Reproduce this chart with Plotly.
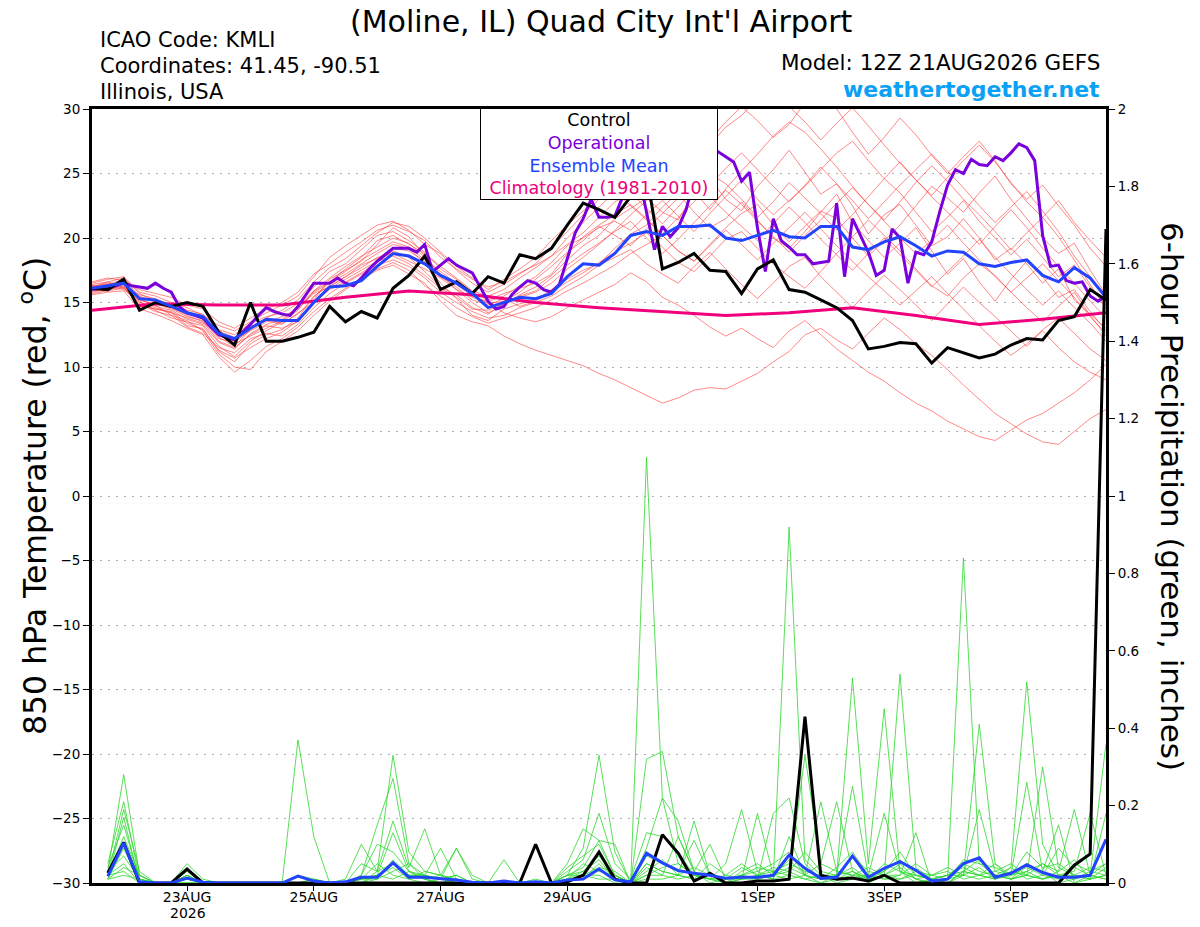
import plotly.graph_objects as go
import pandas as pd

# GEFS meteogram for KMLI, 12Z 21AUG2026 run
start = pd.Timestamp("2026-08-21 12:00")
times = pd.date_range(start, periods=65, freq="6h")       # ensemble, 6-hourly
op_times = pd.date_range(start, periods=129, freq="3h")   # operational, 3-hourly
clim_times = pd.date_range(start, periods=17, freq="24h")  # climatology, daily
precip_times = times[1:]                                  # 6-h accumulations

tick_dates = ["2026-08-23", "2026-08-25", "2026-08-27", "2026-08-29",
              "2026-09-01", "2026-09-03", "2026-09-05"]
tick_labels = ["23AUG", "25AUG", "27AUG", "29AUG", "1SEP", "3SEP", "5SEP"]
year_label = "2026"

# 850 hPa temperature (C)
control_temp = [
    16.1, 16.0, 16.8, 14.4, 15.0, 14.7, 15.0, 14.7, 12.7, 11.7,
    15.0, 12.0, 12.0, 12.3, 12.7, 14.7, 13.5, 14.3, 13.8, 16.1,
    17.1, 18.6, 16.0, 16.6, 15.7, 17.0, 16.5, 18.7, 18.4, 19.2,
    21.0, 22.7, 22.2, 21.6, 23.2, 25.0, 17.6, 18.1, 18.8, 17.5,
    17.4, 15.7, 17.6, 18.3, 16.0, 15.8, 15.2, 14.6, 13.6, 11.4,
    11.6, 11.9, 11.8, 10.3, 11.5, 11.1, 10.7, 11.0, 11.7, 12.2,
    12.1, 13.6, 13.9, 16.0, 15.2,
]
mean_temp = [
    16.1, 16.3, 16.5, 15.3, 15.2, 14.7, 14.2, 13.9, 12.6, 12.2,
    13.0, 13.7, 13.6, 13.6, 15.0, 16.2, 16.3, 16.7, 17.8, 18.8,
    18.6, 18.0, 17.1, 16.5, 15.7, 14.6, 15.0, 15.4, 15.3, 15.7,
    17.0, 18.0, 17.9, 18.8, 20.2, 20.5, 20.2, 20.9, 20.9, 21.0,
    20.0, 19.8, 20.2, 20.6, 20.1, 20.0, 20.9, 20.9, 19.3, 19.1,
    19.7, 20.1, 19.4, 18.6, 19.0, 18.9, 18.0, 17.8, 18.1, 18.3,
    17.1, 16.6, 17.7, 16.9, 15.4,
]
op_temp = [
    16.0, 16.1, 16.2, 16.3, 16.5, 16.3, 16.2, 16.1,
    16.5, 16.1, 15.8, 14.7, 14.2, 14.0, 13.8, 13.1,
    12.5, 12.3, 12.1, 12.7, 13.3, 14.0, 14.6, 14.3,
    14.1, 14.0, 14.7, 15.6, 16.5, 16.5, 16.5, 16.9,
    16.5, 16.3, 16.9, 17.6, 18.2, 18.7, 19.2, 19.2,
    19.2, 18.9, 19.5, 17.4, 17.9, 18.4, 17.9, 17.6,
    17.3, 16.2, 15.1, 14.5, 14.7, 15.6, 16.2, 16.7,
    16.5, 16.0, 15.8, 16.4, 18.5, 20.4, 21.5, 23.0,
    21.6, 21.6, 21.7, 23.2, 24.5, 25.0, 22.0, 19.1,
    20.9, 20.1, 20.8, 22.2, 24.5, 26.0, 26.5, 26.7,
    26.3, 25.9, 24.4, 25.1, 20.8, 17.4, 21.5, 19.8,
    19.3, 18.7, 18.7, 18.0, 18.1, 18.2, 22.7, 17.0,
    21.5, 20.2, 18.9, 17.1, 17.5, 20.7, 20.0, 16.5,
    18.9, 18.7, 19.7, 22.0, 24.1, 25.3, 25.0, 26.1,
    25.7, 25.6, 26.3, 26.0, 26.6, 27.3, 27.0, 26.0,
    20.2, 17.8, 17.9, 16.7, 16.5, 16.6, 15.5, 15.1,
    15.5,
]
clim_temp = [14.4, 14.9, 14.8, 14.8, 15.4, 15.9, 15.6, 15.0, 14.6,
             14.3, 14.0, 14.2, 14.6, 14.0, 13.3, 13.7, 14.2]

member_temps = [
    [16.0, 16.4, 16.8, 15.5, 15.0, 14.6, 14.0, 13.5, 12.0, 11.5,
     12.5, 13.2, 13.0, 13.5, 15.2, 16.8, 17.5, 18.2, 19.5, 20.8,
     20.1, 18.6, 17.2, 16.0, 15.0, 14.2, 14.8, 15.6, 16.2, 17.1,
     18.3, 19.4, 20.2, 21.5, 22.3, 23.1, 22.0, 21.4, 23.5, 24.6,
     23.0, 22.1, 24.0, 25.3, 26.8, 25.1, 23.4, 24.2, 22.5, 20.3,
     21.8, 22.6, 21.0, 19.4, 20.1, 21.5, 20.0, 18.3, 19.2, 18.0,
     16.5, 17.6, 15.2, 14.1, 13.0],
    [15.8, 16.0, 16.3, 14.8, 14.5, 14.2, 13.2, 13.0, 11.2, 10.4,
     11.8, 12.5, 12.9, 13.8, 15.5, 16.3, 17.0, 17.9, 18.4, 19.2,
     19.0, 18.2, 16.5, 15.3, 14.0, 13.6, 14.5, 14.9, 15.2, 16.0,
     16.8, 17.5, 18.0, 19.2, 20.3, 21.0, 22.4, 23.5, 22.0, 20.8,
     21.5, 22.8, 21.4, 20.0, 19.2, 20.5, 22.0, 23.4, 21.2, 19.8,
     18.5, 19.6, 20.8, 19.0, 17.2, 18.4, 16.6, 15.1, 16.8, 18.2,
     17.0, 15.4, 16.0, 14.3, 12.8],
    [16.2, 16.5, 16.1, 15.2, 14.8, 14.0, 13.6, 12.8, 11.0, 10.0,
     9.8, 11.2, 12.0, 12.8, 14.0, 15.1, 16.0, 16.8, 17.5, 17.9,
     17.2, 16.5, 15.1, 14.0, 13.5, 13.2, 12.4, 11.8, 11.3, 10.9,
     10.5, 10.1, 9.5, 9.0, 8.4, 7.8, 7.2, 7.6, 8.2, 8.4,
     8.3, 8.9, 9.5, 10.4, 11.2, 12.5, 13.0, 12.1, 11.4, 12.6,
     13.8, 12.9, 11.8, 10.9, 9.8, 8.6, 7.5, 6.4, 5.6, 4.8,
     4.2, 4.0, 5.0, 6.0, 6.7],
    [16.0, 15.9, 16.5, 15.0, 14.6, 14.2, 13.8, 13.4, 12.6, 11.8,
     12.4, 13.0, 13.6, 14.6, 15.8, 16.5, 17.2, 18.0, 18.8, 19.5,
     19.2, 18.0, 17.0, 16.4, 15.5, 15.0, 14.2, 13.8, 13.5, 13.9,
     14.6, 15.2, 15.8, 16.4, 17.3, 16.6, 15.4, 14.8, 14.0, 13.1,
     12.4, 13.0, 12.2, 11.5, 12.8, 13.6, 12.5, 11.4, 10.5, 9.6,
     8.9, 8.0, 7.2, 6.6, 5.8, 5.2, 4.6, 4.3, 5.1, 5.9,
     6.4, 7.2, 8.0, 9.0, 10.2],
    [16.5, 16.8, 17.0, 15.8, 15.5, 15.0, 14.6, 14.0, 13.2, 12.8,
     13.5, 14.2, 14.8, 15.5, 17.0, 18.5, 19.4, 20.2, 21.0, 21.3,
     20.6, 19.5, 18.8, 17.5, 16.5, 15.8, 16.4, 17.2, 18.0, 19.3,
     20.5, 21.8, 23.0, 24.2, 25.5, 24.8, 26.0, 27.4, 28.5, 27.6,
     29.0, 30.2, 29.1, 27.8, 28.8, 30.5, 31.4, 30.0, 28.2, 26.5,
     27.8, 29.3, 28.0, 26.4, 25.0, 26.3, 27.5, 26.0, 24.2, 23.0,
     24.1, 22.5, 21.0, 19.2, 17.8],
    [16.3, 16.1, 16.6, 15.4, 15.2, 14.9, 14.4, 14.1, 12.9, 12.5,
     13.4, 13.9, 14.2, 14.9, 16.2, 17.4, 18.0, 19.1, 20.2, 20.5,
     19.8, 18.9, 17.6, 16.8, 15.8, 15.2, 15.7, 16.1, 16.5, 17.2,
     18.8, 20.1, 21.0, 21.8, 22.6, 21.5, 20.2, 19.0, 18.2, 19.5,
     20.8, 21.9, 22.6, 21.0, 19.7, 20.9, 22.1, 21.5, 20.0, 18.6,
     19.8, 21.0, 22.5, 24.0, 23.1, 22.0, 23.5, 24.8, 23.0, 21.5,
     20.0, 18.8, 19.6, 17.5, 15.6],
    [15.9, 16.2, 16.4, 14.6, 14.9, 14.5, 13.9, 13.6, 12.2, 11.9,
     13.0, 13.6, 13.3, 14.2, 15.0, 16.0, 16.6, 17.3, 18.1, 19.0,
     18.5, 17.4, 16.2, 15.6, 14.6, 14.1, 14.9, 15.4, 15.8, 16.5,
     17.6, 18.5, 19.5, 20.6, 21.8, 22.9, 24.1, 25.0, 23.6, 22.2,
     23.8, 25.2, 26.5, 27.9, 29.0, 28.2, 26.9, 25.5, 24.0, 22.6,
     21.4, 22.8, 24.3, 25.6, 24.4, 23.0, 21.8, 20.5, 19.1, 20.4,
     21.6, 20.1, 18.3, 16.4, 14.5],
    [16.1, 16.3, 16.0, 15.1, 14.4, 13.8, 13.5, 13.2, 11.6, 10.8,
     12.0, 12.8, 13.5, 14.4, 15.9, 16.9, 17.8, 18.6, 19.3, 20.0,
     19.6, 18.5, 17.0, 16.2, 15.2, 14.8, 15.3, 14.7, 15.1, 15.8,
     16.6, 17.3, 18.1, 18.9, 19.6, 20.4, 19.3, 18.1, 17.4, 18.6,
     19.9, 20.5, 19.2, 18.0, 17.0, 16.1, 17.4, 18.8, 20.1, 21.4,
     20.2, 19.0, 17.6, 16.3, 15.5, 16.9, 18.0, 17.1, 15.8, 14.6,
     13.5, 14.7, 15.8, 14.0, 12.4],
    [16.4, 16.6, 16.2, 15.6, 15.3, 14.7, 14.2, 13.9, 12.4, 12.0,
     12.8, 13.5, 13.9, 14.5, 15.7, 16.2, 17.0, 17.7, 18.5, 18.8,
     18.2, 17.6, 16.9, 16.0, 15.4, 15.1, 15.5, 16.3, 17.0, 18.1,
     19.4, 20.0, 20.8, 21.3, 20.6, 21.8, 22.9, 21.7, 20.5, 21.9,
     23.2, 24.5, 23.0, 21.8, 22.9, 24.0, 25.3, 26.6, 27.5, 26.0,
     24.6, 23.5, 22.0, 20.5, 21.6, 22.9, 21.3, 20.0, 18.7, 19.9,
     18.5, 17.0, 17.9, 16.2, 14.8],
    [15.7, 15.9, 16.1, 14.9, 14.3, 14.0, 13.1, 12.6, 11.5, 11.1,
     12.2, 12.6, 12.4, 13.3, 14.6, 15.7, 16.5, 17.2, 17.9, 18.3,
     17.8, 16.9, 15.8, 15.0, 14.3, 13.8, 14.0, 14.6, 15.0, 15.5,
     16.3, 17.0, 17.9, 18.5, 19.1, 18.0, 17.2, 16.5, 17.8, 18.9,
     17.6, 16.4, 15.3, 16.5, 17.8, 18.5, 17.0, 15.8, 14.6, 15.9,
     17.1, 16.0, 14.8, 13.6, 14.9, 16.2, 15.0, 13.9, 12.8, 11.6,
     12.9, 13.8, 12.6, 11.4, 10.5],
    [16.6, 16.9, 16.7, 16.0, 15.7, 15.4, 14.8, 14.5, 13.5, 13.0,
     13.8, 14.5, 15.0, 15.8, 17.2, 18.0, 18.9, 19.7, 20.6, 21.0,
     20.5, 19.8, 18.5, 17.6, 16.8, 16.2, 16.6, 17.3, 17.9, 18.6,
     19.5, 20.4, 21.6, 22.8, 23.5, 22.3, 21.1, 22.4, 23.8, 25.0,
     24.2, 23.0, 21.6, 22.8, 24.3, 23.1, 21.9, 20.6, 21.8, 23.2,
     24.6, 25.9, 24.5, 23.2, 22.0, 20.8, 19.5, 20.9, 22.2, 20.8,
     19.2, 17.8, 16.5, 15.1, 13.8],
    [15.6, 15.8, 15.9, 14.5, 14.1, 13.6, 13.0, 12.5, 10.8, 9.6,
     10.5, 11.6, 12.2, 13.1, 14.3, 15.3, 16.1, 16.9, 17.6, 18.1,
     17.5, 16.3, 15.5, 14.6, 13.9, 13.4, 13.8, 14.2, 14.6, 15.2,
     15.9, 16.5, 17.2, 17.9, 18.8, 19.5, 20.2, 19.0, 18.2, 19.4,
     20.6, 19.5, 18.3, 19.6, 20.8, 22.0, 20.7, 19.4, 18.2, 17.0,
     15.9, 14.8, 15.9, 17.0, 15.7, 14.5, 13.2, 12.0, 10.9, 11.8,
     12.8, 11.5, 10.4, 9.6, 9.0],
    [16.2, 16.6, 16.9, 15.7, 15.1, 14.8, 14.3, 13.7, 12.8, 12.3,
     13.1, 13.8, 14.4, 15.2, 16.6, 17.7, 18.4, 19.4, 20.4, 21.2,
     20.9, 20.0, 18.9, 17.8, 16.9, 16.0, 16.8, 17.6, 18.5, 19.8,
     21.0, 22.1, 23.2, 24.5, 25.6, 26.8, 28.0, 27.0, 25.8, 27.2,
     28.6, 29.5, 30.8, 31.6, 30.2, 29.0, 27.6, 28.9, 30.1, 28.7,
     27.2, 25.8, 24.5, 23.3, 24.7, 26.0, 27.2, 25.9, 24.3, 22.8,
     21.6, 22.9, 21.2, 19.8, 18.5],
    [16.0, 16.2, 16.6, 15.3, 14.7, 14.4, 13.7, 13.3, 11.9, 11.4,
     12.6, 13.3, 13.7, 14.7, 15.9, 16.6, 17.4, 18.3, 19.0, 19.7,
     19.3, 18.3, 17.4, 16.5, 15.6, 14.9, 15.1, 15.8, 16.8, 17.8,
     18.9, 19.8, 20.9, 20.2, 19.4, 20.7, 21.9, 23.1, 24.3, 23.2,
     22.0, 20.9, 19.8, 21.1, 22.4, 21.2, 19.9, 18.7, 17.5, 18.8,
     20.0, 18.7, 17.5, 16.2, 17.4, 18.6, 19.9, 18.5, 17.2, 16.0,
     14.8, 15.9, 14.6, 13.4, 12.0],
    [15.9, 16.0, 16.2, 14.7, 14.5, 14.3, 13.4, 12.9, 11.3, 10.7,
     11.5, 12.2, 12.7, 13.6, 15.1, 16.1, 16.8, 17.5, 18.2, 18.6,
     18.0, 17.1, 16.1, 15.4, 14.5, 14.4, 14.9, 15.5, 15.9, 16.9,
     17.9, 18.8, 19.6, 20.5, 21.3, 20.0, 18.8, 19.9, 21.2, 22.5,
     23.7, 22.6, 21.3, 20.1, 18.9, 20.2, 21.4, 22.7, 23.9, 22.6,
     21.3, 20.0, 18.8, 19.8, 21.0, 19.6, 18.3, 17.0, 15.8, 16.9,
     18.0, 16.7, 15.4, 13.9, 12.6],
    [16.3, 16.4, 16.6, 15.2, 14.9, 14.6, 14.1, 13.8, 12.3, 11.6,
     12.9, 13.7, 13.4, 14.1, 15.4, 16.6, 17.6, 18.5, 19.8, 20.2,
     19.5, 18.8, 17.8, 16.9, 15.9, 15.5, 16.0, 16.9, 17.7, 18.6,
     20.0, 21.2, 22.4, 23.6, 22.5, 21.4, 20.3, 21.6, 22.8, 24.1,
     25.4, 26.6, 25.3, 24.0, 22.8, 24.1, 25.5, 24.2, 22.9, 21.5,
     22.8, 24.1, 25.3, 26.5, 25.2, 23.9, 22.5, 21.2, 22.4, 23.6,
     22.1, 20.5, 18.6, 17.0, 15.5],
]

# 6-hour precipitation (inches), valid at the end of each 6-h period
control_precip = [
    0.026, 0.105, 0, 0, 0, 0.036, 0, 0,
    0, 0, 0, 0, 0, 0, 0, 0,
    0, 0, 0, 0, 0, 0, 0, 0,
    0, 0, 0, 0.10, 0, 0.003, 0.02, 0.08,
    0.01, 0, 0, 0.125, 0.077, 0.005, 0.025, 0,
    0, 0.005, 0.005, 0.01, 0.43, 0.02, 0.01, 0.013,
    0.005, 0.02, 0, 0, 0, 0, 0, 0,
    0, 0, 0, 0, 0, 0.046, 0.075, 1.69,
]
mean_precip = [
    0.018, 0.103, 0.003, 0, 0, 0.013, 0.002, 0,
    0, 0, 0, 0, 0.018, 0.005, 0, 0.003,
    0.015, 0.015, 0.052, 0.015, 0.015, 0.012, 0.008, 0.002,
    0, 0.005, 0, 0.003, 0, 0.008, 0.01, 0.036,
    0.008, 0.003, 0.077, 0.052, 0.032, 0.025, 0.02, 0.012,
    0.015, 0.015, 0.02, 0.072, 0.038, 0.012, 0.015, 0.07,
    0.015, 0.038, 0.055, 0.033, 0.005, 0.01, 0.05, 0.065,
    0.015, 0.025, 0.047, 0.027, 0.015, 0.015, 0.02, 0.113,
]
member_precips = [
    [0.03, 0.28, 0.02, 0, 0, 0.02, 0, 0,
     0, 0, 0, 0, 0.37, 0.12, 0, 0,
     0.01, 0.02, 0.05, 0.02, 0.01, 0, 0, 0,
     0, 0, 0, 0, 0, 0.02, 0.09, 0.33,
     0.08, 0, 1.10, 0.22, 0.05, 0.02, 0.01, 0,
     0.02, 0.03, 0.05, 0.08, 0.02, 0, 0.01, 0.03,
     0, 0.02, 0.05, 0.01, 0, 0, 0.03, 0.02,
     0.01, 0.04, 0.52, 0.10, 0.02, 0, 0.01, 0.02],
    [0.05, 0.21, 0.01, 0, 0, 0.03, 0, 0,
     0, 0, 0, 0, 0, 0.01, 0, 0.01,
     0.10, 0.03, 0.33, 0.08, 0.03, 0.02, 0.01, 0,
     0, 0.06, 0, 0, 0, 0.05, 0.14, 0.11,
     0.02, 0, 0.32, 0.34, 0.12, 0.03, 0, 0.01,
     0.04, 0.02, 0.01, 0.92, 0.06, 0.02, 0, 0.01,
     0.02, 0.01, 0.02, 0.13, 0, 0.01, 0.84, 0.05,
     0.02, 0.01, 0.05, 0.03, 0, 0.01, 0.03, 0.05],
    [0.02, 0.19, 0.03, 0, 0, 0.05, 0.01, 0,
     0, 0, 0, 0, 0, 0, 0, 0,
     0.02, 0.15, 0.27, 0.05, 0.02, 0.09, 0.01, 0,
     0, 0, 0, 0, 0, 0.03, 0.06, 0.18,
     0.05, 0.01, 0.13, 0.12, 0.08, 0.02, 0.01, 0.05,
     0.19, 0.03, 0.01, 0.02, 0.33, 0.05, 0.21, 0.03,
     0.01, 0.02, 0.54, 0.04, 0.01, 0, 0.02, 0.41,
     0.05, 0.01, 0.02, 0.30, 0.04, 0.02, 0.01, 0.18],
    [0.01, 0.17, 0, 0, 0, 0.01, 0, 0,
     0, 0, 0, 0, 0.02, 0.01, 0, 0,
     0.05, 0.03, 0.16, 0.04, 0.14, 0.02, 0.09, 0.01,
     0, 0, 0, 0, 0, 0.02, 0.04, 0.11,
     0.10, 0, 0.05, 0.03, 0.02, 0.16, 0.02, 0,
     0.01, 0.18, 0.02, 0.03, 0.01, 0, 0.02, 0.53,
     0.05, 0.45, 0.03, 0, 0.01, 0.02, 0.04, 0.02,
     0.01, 0.02, 0.26, 0.03, 0.15, 0, 0.02, 0.01],
    [0.04, 0.15, 0.01, 0, 0, 0.02, 0, 0,
     0, 0, 0, 0, 0, 0, 0, 0,
     0.01, 0.02, 0.13, 0.03, 0.02, 0.01, 0.09, 0.02,
     0, 0, 0, 0.01, 0, 0.04, 0.07, 0.10,
     0.02, 0, 0.04, 0.02, 0.12, 0.03, 0.10, 0.01,
     0.02, 0.01, 0.18, 0.22, 0.05, 0.01, 0.02, 0.25,
     0.02, 0.18, 0.03, 0.01, 0.02, 0.04, 0.02, 0.19,
     0.03, 0.05, 0.02, 0.01, 0.03, 0.19, 0.02, 0.36],
    [0.02, 0.12, 0.02, 0, 0, 0.01, 0, 0,
     0, 0, 0, 0, 0, 0, 0, 0,
     0.02, 0.10, 0.08, 0.03, 0.01, 0.02, 0.01, 0,
     0, 0, 0, 0, 0, 0.01, 0.03, 0.06,
     0.01, 0, 0.09, 0.22, 0.16, 0.03, 0.01, 0,
     0.03, 0.05, 0.02, 0.06, 0.02, 0.21, 0.03, 0.02,
     0.01, 0.03, 0.08, 0.02, 0.01, 0.02, 0.05, 0.03,
     0.02, 0.01, 0.03, 0.05, 0.02, 0.03, 0.18, 0.02],
    [0.01, 0.09, 0, 0, 0, 0.02, 0, 0,
     0, 0, 0, 0, 0, 0, 0, 0,
     0, 0.03, 0.05, 0.02, 0.02, 0.01, 0.02, 0,
     0, 0, 0, 0, 0, 0.02, 0.02, 0.04,
     0.03, 0, 0.07, 0.05, 0.03, 0.11, 0.02, 0.01,
     0.02, 0.04, 0.03, 0.05, 0.03, 0.02, 0.01, 0.07,
     0.03, 0.02, 0.04, 0.01, 0, 0.01, 0.06, 0.05,
     0.04, 0.02, 0.08, 0.04, 0.05, 0.02, 0.04, 0.03],
    [0.03, 0.07, 0.01, 0, 0, 0, 0, 0,
     0, 0, 0, 0, 0, 0, 0, 0,
     0.01, 0.02, 0.04, 0.01, 0.03, 0.02, 0, 0,
     0, 0, 0, 0, 0, 0.01, 0.05, 0.03,
     0.02, 0, 0.03, 0.06, 0.02, 0.01, 0.05, 0.02,
     0.01, 0.02, 0.04, 0.03, 0.08, 0.03, 0.02, 0.04,
     0.01, 0.05, 0.03, 0.02, 0.01, 0, 0.03, 0.06,
     0.02, 0.04, 0.01, 0.02, 0.09, 0.04, 0.02, 0.01],
    [0.02, 0.05, 0, 0, 0, 0.01, 0, 0,
     0, 0, 0, 0, 0, 0.01, 0, 0,
     0.01, 0.05, 0.02, 0.01, 0, 0.01, 0.02, 0,
     0, 0, 0, 0, 0, 0, 0.02, 0.02,
     0, 0, 0.02, 0.04, 0.05, 0.02, 0.01, 0.01,
     0.02, 0.01, 0.02, 0.04, 0.02, 0.05, 0.03, 0.02,
     0.04, 0.02, 0.01, 0.03, 0.02, 0.01, 0.02, 0.04,
     0.01, 0.03, 0.02, 0.05, 0.03, 0.06, 0.01, 0.04],
    [0.01, 0.04, 0.02, 0, 0, 0.02, 0, 0,
     0, 0, 0, 0, 0, 0, 0, 0,
     0, 0.01, 0.03, 0.05, 0.01, 0, 0.01, 0,
     0, 0, 0, 0, 0, 0.01, 0.01, 0.05,
     0.01, 0, 0.05, 0.03, 0.02, 0.04, 0.02, 0,
     0.01, 0.02, 0.01, 0.12, 0.02, 0.01, 0.04, 0.08,
     0.02, 0.03, 0.06, 0.02, 0.01, 0.02, 0.03, 0.02,
     0.03, 0.02, 0.04, 0.02, 0.01, 0.05, 0.03, 0.02],
    [0.02, 0.03, 0, 0, 0, 0, 0, 0,
     0, 0, 0, 0, 0, 0, 0, 0,
     0.01, 0.01, 0.06, 0.02, 0.02, 0.01, 0, 0,
     0, 0, 0, 0, 0, 0.02, 0.03, 0.07,
     0.02, 0, 0.02, 0.02, 0.01, 0.02, 0.01, 0.02,
     0.05, 0.02, 0.03, 0.02, 0.01, 0.02, 0.02, 0.03,
     0.01, 0.02, 0.02, 0.05, 0.02, 0.03, 0.01, 0.02,
     0.05, 0.02, 0.03, 0.01, 0.02, 0.01, 0.02, 0.05],
    [0.01, 0.02, 0.01, 0, 0, 0, 0, 0,
     0, 0, 0, 0, 0, 0, 0, 0,
     0, 0.02, 0.01, 0.03, 0.01, 0, 0.01, 0,
     0, 0, 0, 0, 0, 0.01, 0.02, 0.01,
     0.01, 0, 0.01, 0.01, 0.02, 0.01, 0.02, 0.01,
     0.01, 0.01, 0.02, 0.01, 0.02, 0.01, 0.01, 0.02,
     0.02, 0.01, 0.01, 0.02, 0.01, 0.02, 0.02, 0.01,
     0.02, 0.01, 0.02, 0.01, 0.02, 0.02, 0.01, 0.02],
]

FONT = "DejaVu Sans, Verdana, sans-serif"
RED = "rgba(255,55,55,0.75)"
GREEN = "rgb(45,215,45)"
PURPLE = "#7a00dc"
BLUE = "#2244ff"
MAGENTA = "#f0007c"

fig = go.Figure()

for m in member_temps:
    fig.add_trace(go.Scatter(x=times, y=m, mode="lines", line=dict(color=RED, width=0.8),
                             hoverinfo="skip", showlegend=False))
fig.add_trace(go.Scatter(x=clim_times, y=clim_temp, mode="lines",
                         line=dict(color=MAGENTA, width=3), showlegend=False))
fig.add_trace(go.Scatter(x=op_times, y=op_temp, mode="lines",
                         line=dict(color=PURPLE, width=3), showlegend=False))
fig.add_trace(go.Scatter(x=times, y=control_temp, mode="lines",
                         line=dict(color="black", width=3), showlegend=False))
fig.add_trace(go.Scatter(x=times, y=mean_temp, mode="lines",
                         line=dict(color=BLUE, width=3), showlegend=False))

for m in member_precips:
    fig.add_trace(go.Scatter(x=precip_times, y=m, mode="lines", yaxis="y2",
                             line=dict(color=GREEN, width=0.8), hoverinfo="skip", showlegend=False))
fig.add_trace(go.Scatter(x=precip_times, y=control_precip, mode="lines", yaxis="y2",
                         line=dict(color="black", width=3), showlegend=False))
fig.add_trace(go.Scatter(x=precip_times, y=mean_precip, mode="lines", yaxis="y2",
                         line=dict(color=BLUE, width=3), showlegend=False))

# plot box on screen: x 92..1106, y 109..883 (page body adds an 8 px offset)
def px(xp):
    return (xp - 92) / 1014.0

def py(yp):
    return (883 - yp) / 774.0

legend_text = ("Control<br>"
               f"<span style='color:{PURPLE}'>Operational</span><br>"
               f"<span style='color:{BLUE}'>Ensemble Mean</span><br>"
               f"<span style='color:{MAGENTA}'>Climatology (1981-2010)</span>")

annotations = [
    dict(x=px(601), y=py(21), text="(Moline, IL) Quad City Int'l Airport",
         font=dict(size=30)),
    dict(x=px(98), y=py(40), text="ICAO Code: KMLI", xanchor="left", font=dict(size=21)),
    dict(x=px(98), y=py(66), text="Coordinates: 41.45, -90.51", xanchor="left", font=dict(size=21)),
    dict(x=px(98), y=py(92), text="Illinois, USA", xanchor="left", font=dict(size=21)),
    dict(x=px(1102), y=py(63), text="Model: 12Z 21AUG2026 GEFS", xanchor="right", font=dict(size=21.5)),
    dict(x=px(1102), y=py(89), text="<b>weathertogether.net</b>", xanchor="right",
         font=dict(size=22, color="#0aa0f5")),
    dict(x=px(33), y=py(496), text="850 hPa Temperature (red, <sup>o</sup>C)", textangle=-90,
         font=dict(size=31.5)),
    dict(x=px(1172), y=py(496), text="6-hour Precipitation (green, inches)", textangle=90,
         font=dict(size=31)),
    dict(x=px(188), y=py(922), yanchor="bottom", text=year_label, font=dict(size=14),
         borderpad=0),
    dict(x=px(599), y=py(108), yanchor="top", text=legend_text, width=234, align="center",
         bgcolor="white", bordercolor="black", borderwidth=1, borderpad=1,
         font=dict(size=17.5)),
]
for a in annotations:
    a.setdefault("xref", "paper")
    a.setdefault("yref", "paper")
    a.setdefault("showarrow", False)
    a.setdefault("yanchor", "middle")
    a.setdefault("xanchor", "center")
    a["font"].setdefault("color", "black")

fig.update_layout(
    width=1184, height=911,
    margin=dict(l=84, r=86, t=101, b=36),
    paper_bgcolor="white", plot_bgcolor="white",
    font=dict(family=FONT, color="black"),
    showlegend=False,
    annotations=annotations,
    xaxis=dict(
        type="date", range=[times[0], times[-1]],
        tickvals=[pd.Timestamp(d) for d in tick_dates], ticktext=tick_labels,
        showline=True, linewidth=3, linecolor="black", mirror=True,
        ticks="outside", ticklen=5, tickcolor="black", ticklabelstandoff=-6,
        showgrid=False, zeroline=False, tickfont=dict(size=14), automargin=False,
    ),
    yaxis=dict(
        range=[-30, 30], tickvals=list(range(-30, 31, 5)),
        showline=True, linewidth=3, linecolor="black",
        ticks="outside", ticklen=6, tickcolor="black",
        showgrid=True, gridcolor="#b0b0b0", griddash="2px,6px", gridwidth=1.2,
        zeroline=False, tickfont=dict(size=13.5), automargin=False,
    ),
    yaxis2=dict(
        overlaying="y", side="right", range=[0, 2],
        tickvals=[0, 0.2, 0.4, 0.6, 0.8, 1.0, 1.2, 1.4, 1.6, 1.8, 2.0],
        ticktext=["0", "0.2", "0.4", "0.6", "0.8", "1", "1.2", "1.4", "1.6", "1.8", "2"],
        showline=True, linewidth=3, linecolor="black",
        ticks="outside", ticklen=6, tickcolor="black",
        showgrid=False, zeroline=False, tickfont=dict(size=13.5), automargin=False,
    ),
)

fig.write_html("out.html")
